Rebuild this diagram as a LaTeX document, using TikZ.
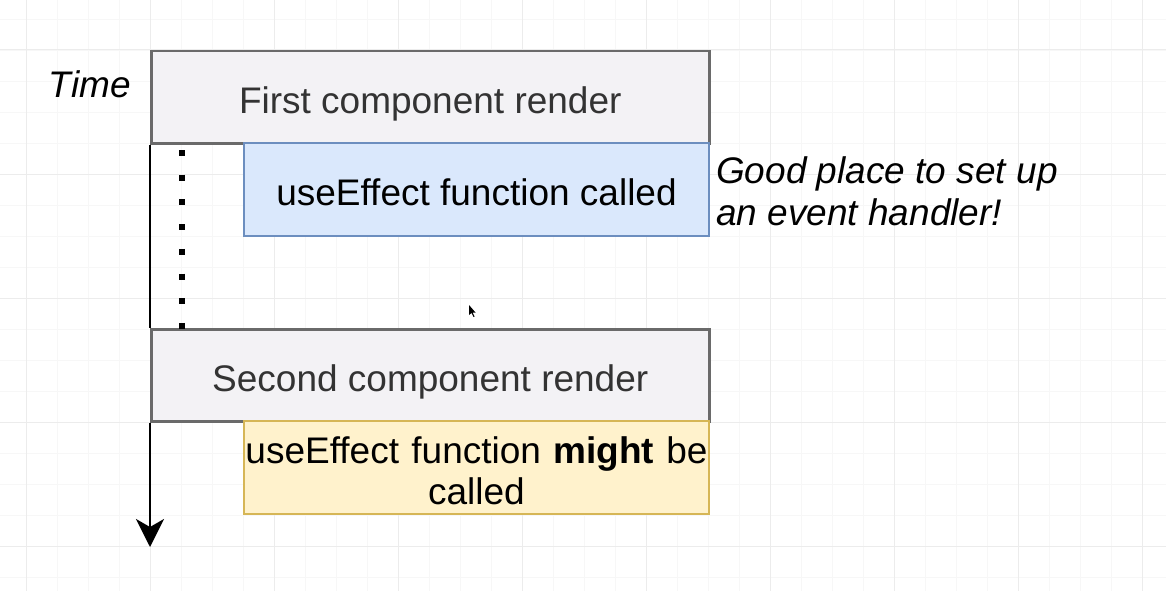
\documentclass[tikz,border=0pt]{standalone}
\usepackage{fontspec}
\setmainfont{Liberation Sans}
\usetikzlibrary{arrows.meta}
\definecolor{gridminor}{HTML}{F7F7F7}
\definecolor{gridmajor}{HTML}{ECECEC}
\definecolor{grayfill}{HTML}{F3F2F5}
\definecolor{grayline}{HTML}{6A6A6A}
\definecolor{graytext}{HTML}{333333}
\definecolor{bluefill}{HTML}{DAE8FC}
\definecolor{blueline}{HTML}{6C8EBF}
\definecolor{yellowfill}{HTML}{FFF2CC}
\definecolor{yellowline}{HTML}{D6B656}
\tikzset{
  big/.style={font=\fontsize{37}{41}\selectfont},
  renderbox/.style={big, draw=grayline, fill=grayfill, line width=2.5pt, text=graytext,
    minimum width=558pt, minimum height=92pt, inner sep=0pt, anchor=north west,
    text height=33pt, text depth=1pt},
  bluebox/.style={big, draw=blueline, fill=bluefill, line width=2pt, text=black,
    minimum width=465pt, minimum height=93pt, inner sep=0pt, anchor=north west,
    text height=33pt, text depth=1pt},
  yellowbox/.style={big, draw=yellowline, fill=yellowfill, line width=2pt, text=black,
    minimum width=465pt, minimum height=93pt, inner sep=0pt, anchor=north west,
    align=center, text width=465pt, text height=33pt, text depth=42pt},
  note/.style={big, font=\fontsize{37}{42}\selectfont\itshape, inner sep=0pt},
  timeline/.style={draw=black, line width=2.2pt},
  dotline/.style={draw=black, line width=6pt, dash pattern=on 6pt off 18.7pt},
}
\begin{document}
\begin{tikzpicture}[x=1pt, y=-1pt]
\useasboundingbox (0,0) rectangle (1166,591);
\fill[white] (0,0) rectangle (1166,591);
% grid
\foreach \i in {-4,...,33} {
  \draw[gridminor, line width=0.8pt] ({150+\i*31},0) -- ({150+\i*31},591);
}
\foreach \j in {-1,...,17} {
  \draw[gridminor, line width=0.8pt] (0,{50+\j*31}) -- (1166,{50+\j*31});
}
\foreach \i in {-1,...,8} {
  \draw[gridmajor, line width=1pt] ({150+\i*124},0) -- ({150+\i*124},591);
}
\foreach \j in {0,...,4} {
  \draw[gridmajor, line width=1pt] (0,{50+\j*124}) -- (1166,{50+\j*124});
}

% boxes
\node[renderbox] (first) at (150,50) {First component render};
\node[bluebox] (effect1) at (243,142) {useEffect function called};
\node[renderbox] (second) at (150,328) {Second component render};
\node[yellowbox] (effect2) at (243,420) {useEffect function \textbf{might} be\\called};

% timeline
\coordinate (dtop) at (182,150);
\coordinate (dbot) at (182,329);
\coordinate (tend) at (150,547);
\draw[timeline] (first.south west) -- (second.north west);
\draw[timeline, -{Stealth[length=28pt, width=28pt, inset=8pt]}] (second.south west) -- (tend);
\draw[dotline] (dtop) -- (dbot);

% labels
\node[note, anchor=base east] (time) at (131,98) {Time};
\node[note, anchor=base west, align=left] (hint) at (716,225) {Good place to set up\\an event handler!};

% mouse cursor
\fill[black] (469,305) -- (469,315) -- (471.5,313) -- (473.5,317) -- (474.5,316.5) -- (472.5,312.5) -- (475.5,312.5) -- cycle;
\end{tikzpicture}
\end{document}
